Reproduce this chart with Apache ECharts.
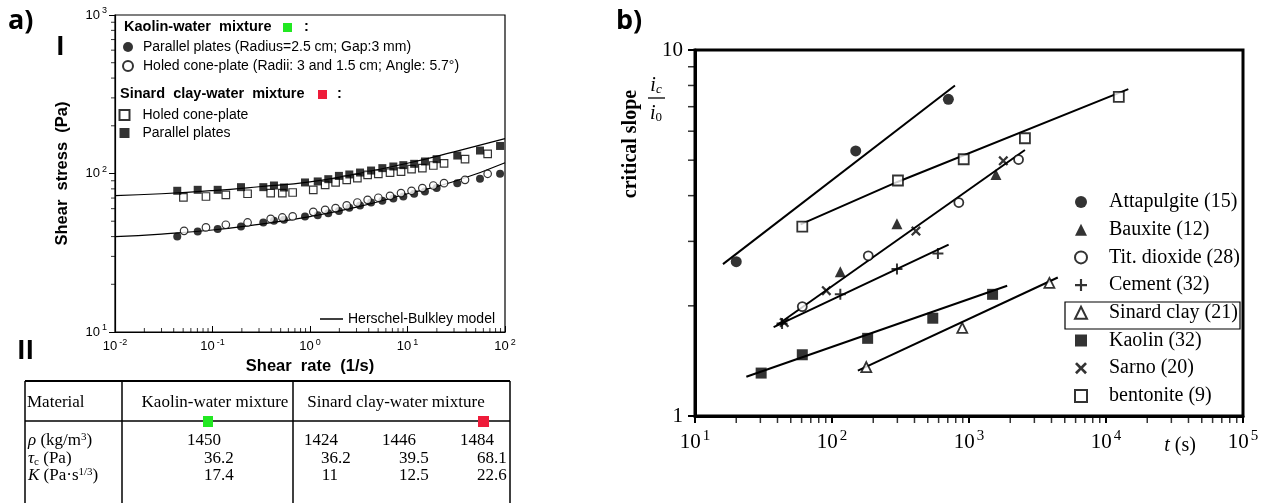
<!DOCTYPE html>
<html><head><meta charset="utf-8">
<script src="https://cdn.jsdelivr.net/npm/echarts@6/dist/echarts.min.js"></script>
<style>html,body{margin:0;padding:0;background:#fff}#c{width:1271px;height:503px}</style>
</head><body><div id="c"></div>
<script>
// ===== Panel a) I : shear stress vs shear rate =====
const sinardPP = [[0.0435,77.8],[0.0705,78.9],[0.113,78.9],[0.196,82.0],[0.332,82.0],[0.427,84.0],[0.541,81.6],[0.889,87.8],[1.20,89.1],[1.54,92.1],[1.98,96.6],[2.53,98.6],[3.26,101.4],[4.23,104.4],[5.52,108.1],[7.16,110.7],[9.06,112.9],[11.7,115.1],[15.1,119.1],[19.9,123.1],[32.4,129.8],[55.4,139.6],[89.0,149.2]];
const sinardHC = [[0.0503,70.6],[0.0857,71.6],[0.137,73.4],[0.229,74.5],[0.395,75.2],[0.520,75.2],[0.664,75.9],[1.08,78.9],[1.43,84.8],[1.83,87.8],[2.38,91.2],[3.06,93.5],[3.90,98.1],[5.02,99.6],[6.62,101.4],[8.58,102.9],[11.0,106.5],[14.2,108.1],[18.4,112.3],[23.7,116.0],[38.9,123.1],[66.4,132.9]];
const kaolinPP = [[0.0435,40.1],[0.0705,43.1],[0.113,44.6],[0.196,46.3],[0.332,49.1],[0.427,50.3],[0.541,51.0],[0.889,53.6],[1.20,54.6],[1.54,56.2],[1.98,57.9],[2.53,60.8],[3.26,62.9],[4.23,65.6],[5.52,67.2],[7.16,69.5],[9.06,71.6],[11.7,74.5],[15.1,77.0],[19.9,80.9],[32.4,86.9],[55.4,92.5],[89.0,99.6]];
const kaolinHC = [[0.0511,43.5],[0.0857,45.7],[0.137,47.5],[0.229,49.1],[0.395,51.8],[0.520,52.8],[0.664,53.6],[1.08,57.3],[1.43,59.0],[1.83,60.5],[2.38,62.9],[3.06,65.6],[3.90,68.2],[5.02,70.3],[6.62,72.3],[8.58,75.2],[11.0,77.8],[14.2,80.9],[18.4,84.0],[23.7,86.9],[38.9,91.2],[66.4,99.6]];
const hbSinard = [[0.01,72.5],[0.03,74.5],[0.1,78],[0.3,82.5],[1,88.5],[3,99.5],[10,116],[30,137],[100,166]];
const hbKaolin = [[0.01,40],[0.03,41.5],[0.1,44],[0.3,47.8],[1,53.5],[3,61.3],[10,74.5],[30,89],[100,117]];
const namesA = ['Parallel plates (Radius=2.5 cm; Gap:3 mm)','Holed cone-plate (Radii: 3 and 1.5 cm; Angle: 5.7°)','Holed cone-plate','Parallel plates','Herschel-Bulkley model'];

// ===== Panel a) II : table =====
const tableHeader = ['Material','Kaolin-water mixture','Sinard clay-water mixture'];
const rowLabels = ['{i|ρ} (kg/m{sup|3})','{i|τ}{sub|c} (Pa)','{i|K} (Pa·s{sup|1/3})'];
const kaolinVals = ['1450','36.2','17.4'];
const sinardVals = [['1424','1446','1484'],['36.2','39.5','68.1'],['11','12.5','22.6']];

// ===== Panel b) : critical slope vs time =====
const attapulgite = [[20,2.64],[149,5.30],[707,7.33]];
const bauxite = [[115,2.48],[298,3.35],[1573,4.57]];
const titDioxide = [[60.7,1.99],[184,2.74],[843,3.83],[2300,5.02]];
const cement = [[43.2,1.79],[115,2.15],[298,2.52],[593,2.78]];
const sinardClay = [[178,1.36],[893,1.74],[3863,2.31]];
const kaolin = [[30.4,1.31],[60.7,1.47],[182,1.63],[544,1.85],[1486,2.15]];
const sarno = [[44.8,1.80],[90.9,2.20],[410,3.20],[1780,4.98]];
const bentonite = [[60.7,3.29],[303,4.40],[915,5.03],[2560,5.74],[12400,7.45]];
const fitAttapulgite = [[16,2.6],[790,8.0]];
const fitBentonite = [[59,3.34],[300,4.36],[14550,7.82]];
const fitTitSarno = [[39.5,1.77],[2560,5.33]];
const fitCement = [[37.5,1.75],[710,2.94]];
const fitKaolin = [[23.7,1.28],[1900,2.27]];
const fitSinard = [[154.5,1.33],[4446,2.39]];
const namesB = ['Attapulgite (15)','Bauxite (12)','Tit. dioxide (28)','Cement (32)','Sinard clay (21)','Kaolin (32)','Sarno (20)','bentonite (9)'];

// ===== helpers (styling only) =====
const SANS = 'Liberation Sans', SERIF = 'Liberation Serif';
function minorVals(e0, e1){ const o=[]; for(let e=e0;e<e1;e++) for(let m=2;m<=9;m++) o.push(m*Math.pow(10,e)); return o; }
// minor log ticks drawn as thin rect symbols sitting on the axis line
function tickSeries(xi, data, size, offset){
  return {type:'scatter', xAxisIndex:xi, yAxisIndex:xi, silent:true, clip:false, z:10, data:data,
    symbol:'rect', symbolSize:size, symbolOffset:offset, itemStyle:{color:'#000'}, emphasis:{disabled:true}};
}
function powLabel(v){ const e=Math.round(Math.log10(v)); return '{b|10}{s|'+(e<0?'-'+(-e):e)+'}'; }
const PLUS = 'path://M4.1,0H5.9V4.1H10V5.9H5.9V10H4.1V5.9H0V4.1H4.1Z';
const CROSS = 'path://M1.6,0L5,3.4L8.4,0L10,1.6L6.6,5L10,8.4L8.4,10L5,6.6L1.6,10L0,8.4L3.4,5L0,1.6Z';
const filled = {color:'#000'};
const hollow = {color:'#fff', borderColor:'#000', borderWidth:1.2};
const hollowB = {color:'#fff', borderColor:'#000', borderWidth:1.8};

function fitLine(d){ return {type:'line', xAxisIndex:1, yAxisIndex:1, data:d, showSymbol:false, symbol:'none', silent:true, lineStyle:{color:'#000', width:2}, z:2}; }
function scatB(name, d, sym, size, st){ return {type:'scatter', name:name, xAxisIndex:1, yAxisIndex:1, data:d, symbol:sym, symbolSize:size, itemStyle:st, z:4}; }

// table graphic
const tg = [];
const TL=25, TR=510, TT=381, TH=421, TB=503;
tg.push({type:'line', shape:{x1:TL,y1:TT,x2:TR,y2:TT}, style:{stroke:'#000', lineWidth:2}});
tg.push({type:'line', shape:{x1:TL,y1:TH,x2:TR,y2:TH}, style:{stroke:'#000', lineWidth:1.5}});
[TL,122,293,TR].forEach(x=>tg.push({type:'line', shape:{x1:x,y1:TT,x2:x,y2:TB}, style:{stroke:'#000', lineWidth:1.5}}));
const tFont = {fontFamily:SERIF, fontSize:17, fill:'#000'};
const hx = [27,215,396], ha = ['left','center','center'];
tableHeader.forEach((t,i)=>tg.push({type:'text', x:hx[i], y:403, style:Object.assign({text:t, textAlign:ha[i], textVerticalAlign:'middle'}, tFont)}));
tg.push({type:'rect', shape:{x:203,y:416,width:10,height:11}, style:{fill:'#22e822'}});
tg.push({type:'rect', shape:{x:478,y:416,width:11,height:11}, style:{fill:'#ee1c3a'}});
const rowY = [441,459,476];
const richT = {i:{fontFamily:SERIF,fontSize:17,fontStyle:'italic'}, sup:{fontFamily:SERIF,fontSize:11,padding:[0,0,8,0]}, sub:{fontFamily:SERIF,fontSize:11,padding:[6,0,0,0]}};
rowLabels.forEach((t,i)=>tg.push({type:'text', x:28, y:rowY[i], style:Object.assign({text:t, rich:richT, textVerticalAlign:'middle'}, tFont)}));
function cell(v, dec, y){ tg.push({type:'text', x:dec+(v.indexOf('.')>=0?12.8:0), y:y, style:Object.assign({text:v, textAlign:'right', textVerticalAlign:'middle'}, tFont)}); }
kaolinVals.forEach((v,i)=>cell(v,221,rowY[i]));
const decs=[338,416,494];
sinardVals.forEach((row,i)=>row.forEach((v,j)=>cell(v,decs[j],rowY[i])));

const gfx = [
  {type:'text', x:8, y:21, style:{text:'a)', fontFamily:'Open Sans', fontWeight:'bold', fontSize:27, fill:'#000', textVerticalAlign:'middle'}},
  {type:'text', x:56, y:48, style:{text:'I', fontFamily:'Open Sans', fontWeight:'bold', fontSize:26, fill:'#000', textVerticalAlign:'middle'}},
  {type:'text', x:17, y:352, style:{text:'II', fontFamily:'Open Sans', fontWeight:'bold', fontSize:26, fill:'#000', textVerticalAlign:'middle'}},
  {type:'text', x:616, y:21, style:{text:'b)', fontFamily:'Open Sans', fontWeight:'bold', fontSize:27, fill:'#000', textVerticalAlign:'middle'}},
  {type:'text', x:124, y:27, style:{text:'Kaolin-water  mixture', fontFamily:SANS, fontWeight:'bold', fontSize:14.5, fill:'#000', textVerticalAlign:'middle'}},
  {type:'rect', shape:{x:283,y:23,width:9,height:9}, style:{fill:'#22e822'}},
  {type:'text', x:304, y:27, style:{text:':', fontFamily:SANS, fontWeight:'bold', fontSize:14.5, fill:'#000', textVerticalAlign:'middle'}},
  {type:'text', x:120, y:94, style:{text:'Sinard  clay-water  mixture', fontFamily:SANS, fontWeight:'bold', fontSize:14.5, fill:'#000', textVerticalAlign:'middle'}},
  {type:'rect', shape:{x:318,y:90,width:9,height:9}, style:{fill:'#ee1c3a'}},
  {type:'text', x:337, y:94, style:{text:':', fontFamily:SANS, fontWeight:'bold', fontSize:14.5, fill:'#000', textVerticalAlign:'middle'}},
  {type:'text', x:631, y:144, rotation:Math.PI/2, style:{text:'critical slope', fontFamily:SERIF, fontWeight:'bold', fontSize:20, fill:'#000', textAlign:'center', textVerticalAlign:'middle'}},
  {type:'text', x:656, y:86, style:{text:'{i|i}{s|c}', rich:{i:{fontFamily:SERIF,fontStyle:'italic',fontSize:20}, s:{fontFamily:SERIF,fontStyle:'italic',fontSize:13,padding:[8,0,0,0]}}, fill:'#000', textAlign:'center', textVerticalAlign:'middle'}},
  {type:'line', shape:{x1:648,y1:98,x2:665,y2:98}, style:{stroke:'#000', lineWidth:1.3}},
  {type:'text', x:656, y:114, style:{text:'{i|i}{s|0}', rich:{i:{fontFamily:SERIF,fontStyle:'italic',fontSize:20}, s:{fontFamily:SERIF,fontSize:13,padding:[8,0,0,0]}}, fill:'#000', textAlign:'center', textVerticalAlign:'middle'}},
  {type:'text', x:1180, y:446, style:{text:'{i|t} (s)', rich:{i:{fontFamily:SERIF,fontStyle:'italic',fontSize:20}}, fontFamily:SERIF, fontSize:20, fill:'#000', textAlign:'center', textVerticalAlign:'middle'}},
  {type:'rect', shape:{x:1065,y:302,width:175,height:27}, style:{fill:'none', stroke:'#000', lineWidth:1.2}}
].concat(tg);

const richA = {b:{fontFamily:SANS,fontSize:13,color:'#000'}, s:{fontFamily:SANS,fontSize:9,color:'#000',padding:[0,0,8,2]}};
const richB = {b:{fontFamily:SERIF,fontSize:21,color:'#000'}, s:{fontFamily:SERIF,fontSize:15,color:'#000',padding:[0,0,11,2]}};

const option = {
  animation:false,
  backgroundColor:'#fff',
  grid:[
    {left:115, top:15, width:390, height:317, show:true, borderColor:'#000', borderWidth:1.2},
    {left:695, top:50, width:548, height:366, show:true, borderColor:'#000', borderWidth:3}
  ],
  xAxis:[
    {type:'log', gridIndex:0, min:0.01, max:100, logBase:10,
     axisLine:{onZero:false, lineStyle:{color:'#000', width:1.2}}, axisTick:{inside:true, length:6, lineStyle:{color:'#000'}},
     splitLine:{show:false}, axisLabel:{margin:6, formatter:powLabel, rich:richA},
     name:'Shear  rate  (1/s)', nameLocation:'middle', nameGap:25, nameTextStyle:{fontFamily:SANS, fontWeight:'bold', fontSize:16.5, color:'#000'}},
    {type:'log', gridIndex:1, min:10, max:100000, logBase:10,
     axisLine:{onZero:false, lineStyle:{color:'#000', width:3}}, axisTick:{length:7, lineStyle:{color:'#000', width:2}},
     splitLine:{show:false}, axisLabel:{margin:13, formatter:powLabel, rich:richB}}
  ],
  yAxis:[
    {type:'log', gridIndex:0, min:10, max:1000, logBase:10,
     axisLine:{onZero:false, lineStyle:{color:'#000', width:1.2}}, axisTick:{length:6, lineStyle:{color:'#000'}},
     splitLine:{show:false}, axisLabel:{margin:8, formatter:powLabel, rich:richA},
     name:'Shear  stress  (Pa)', nameLocation:'middle', nameGap:44, nameRotate:90, nameTextStyle:{fontFamily:SANS, fontWeight:'bold', fontSize:16.5, color:'#000'}},
    {type:'log', gridIndex:1, min:1, max:10, logBase:10,
     axisLine:{onZero:false, lineStyle:{color:'#000', width:3}}, axisTick:{length:7, lineStyle:{color:'#000', width:2}},
     splitLine:{show:false}, axisLabel:{margin:12, fontFamily:SERIF, fontSize:21, color:'#000'}}
  ],
  legend:[
    {data:[namesA[0],namesA[1]], orient:'vertical', left:122, top:39, padding:0, itemGap:3, itemWidth:10, itemHeight:10, selectedMode:false,
     textStyle:{fontFamily:SANS, fontSize:14, color:'#000', lineHeight:16, padding:[0,0,0,5]}},
    {data:[namesA[2],namesA[3]], orient:'vertical', left:118.5, top:107, padding:0, itemGap:2, itemWidth:10, itemHeight:10, selectedMode:false,
     textStyle:{fontFamily:SANS, fontSize:14, color:'#000', lineHeight:16, padding:[0,0,0,8]}},
    {data:[{name:namesA[4], icon:'rect'}], left:320, top:311, padding:0, itemWidth:23, itemHeight:1.5, selectedMode:false,
     textStyle:{fontFamily:SANS, fontSize:14, color:'#000', lineHeight:16}},
    {data:namesB, orient:'vertical', left:1074, top:192, padding:0, itemGap:7.7, itemWidth:12, itemHeight:12, selectedMode:false,
     textStyle:{fontFamily:SERIF, fontSize:20, color:'#000', lineHeight:20, padding:[0,0,0,17]}}
  ],
  graphic:gfx,
  series:[
    {type:'line', name:namesA[4], xAxisIndex:0, yAxisIndex:0, data:hbSinard, smooth:true, symbol:'none', showSymbol:false, color:'#000', lineStyle:{color:'#000', width:1.2}, z:2},
    {type:'line', name:namesA[4], xAxisIndex:0, yAxisIndex:0, data:hbKaolin, smooth:true, symbol:'none', showSymbol:false, color:'#000', lineStyle:{color:'#000', width:1.2}, z:2},
    {type:'scatter', name:namesA[0], xAxisIndex:0, yAxisIndex:0, data:kaolinPP, symbol:'circle', symbolSize:8, itemStyle:filled, z:4},
    {type:'scatter', name:namesA[1], xAxisIndex:0, yAxisIndex:0, data:kaolinHC, symbol:'circle', symbolSize:7.5, itemStyle:hollow, z:4},
    {type:'scatter', name:namesA[2], xAxisIndex:0, yAxisIndex:0, data:sinardHC, symbol:'rect', symbolSize:7.5, itemStyle:hollow, z:4},
    {type:'scatter', name:namesA[3], xAxisIndex:0, yAxisIndex:0, data:sinardPP, symbol:'rect', symbolSize:8, itemStyle:filled, z:4},
    tickSeries(0, minorVals(-2,2).map(v=>[v,10]), [1,4], [0,-2]),
    tickSeries(0, minorVals(1,3).map(v=>[0.01,v]), [4,1], [-2,0]),
    fitLine(fitAttapulgite), fitLine(fitBentonite), fitLine(fitTitSarno), fitLine(fitCement), fitLine(fitKaolin), fitLine(fitSinard),
    scatB(namesB[0], attapulgite, 'circle', 11, filled),
    scatB(namesB[1], bauxite, 'triangle', 11, filled),
    scatB(namesB[2], titDioxide, 'circle', 9, hollowB),
    scatB(namesB[3], cement, PLUS, 11, filled),
    scatB(namesB[4], sinardClay, 'triangle', 10, hollowB),
    scatB(namesB[5], kaolin, 'rect', 11, filled),
    scatB(namesB[6], sarno, CROSS, 10, filled),
    scatB(namesB[7], bentonite, 'rect', 10, hollowB),
    tickSeries(1, minorVals(1,5).map(v=>[v,1]), [1.5,6], [0,4]),
    tickSeries(1, minorVals(0,1).map(v=>[10,v]), [6,1.5], [-4,0])
  ]
};
const chart = echarts.init(document.getElementById('c'), null, {renderer:'canvas'});
chart.setOption(option);
</script></body></html>
